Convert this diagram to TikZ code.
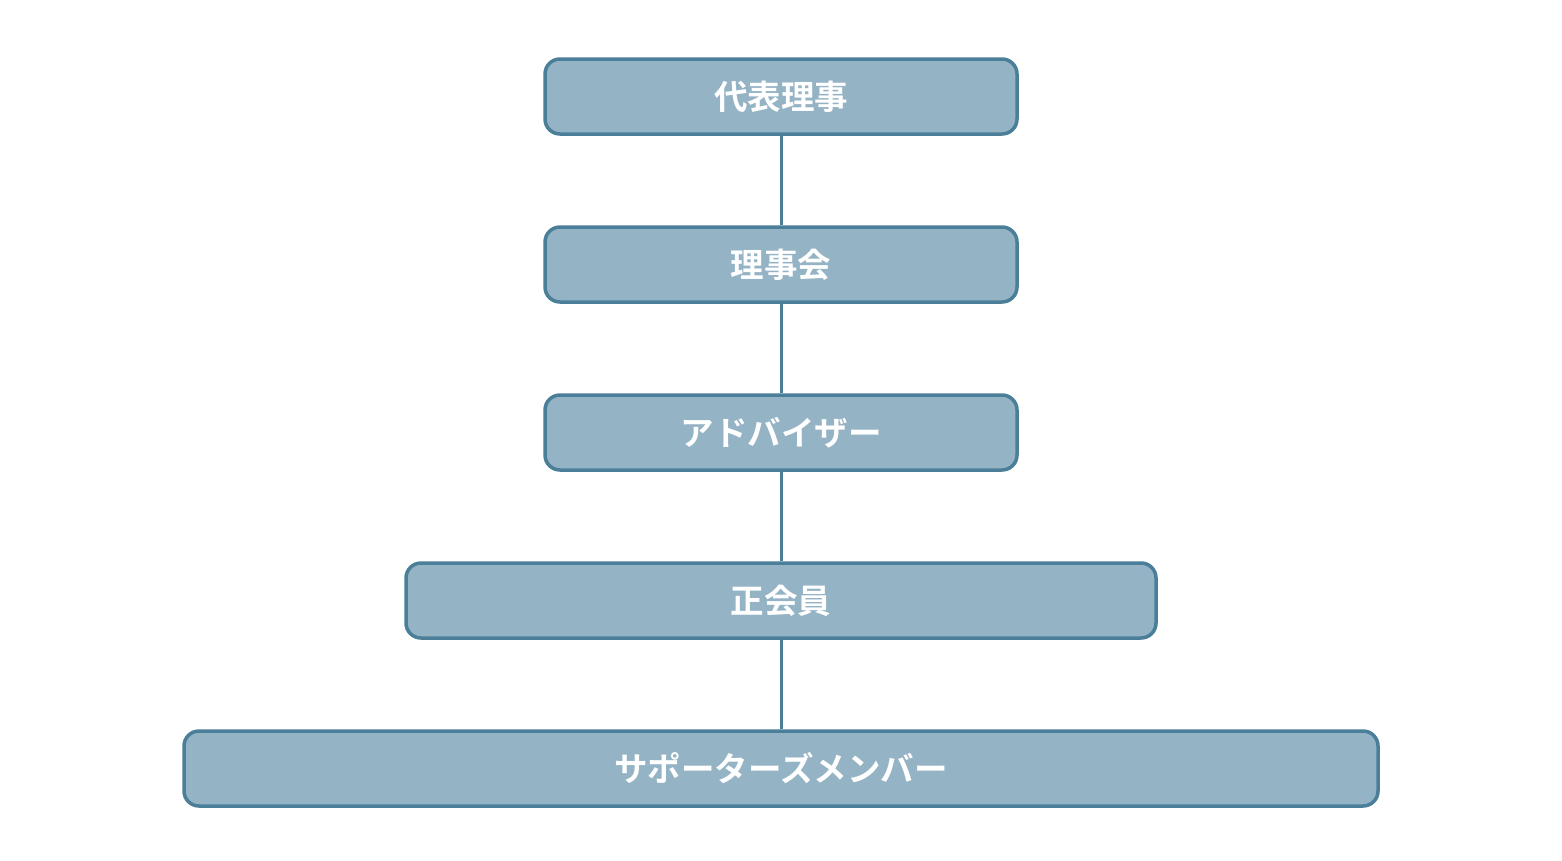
\documentclass[tikz,border=0pt]{standalone}
\usepackage{fontspec}
\newfontfamily\jpfont[BoldFont={Noto Sans CJK JP Bold}]{Noto Sans CJK JP}
\definecolor{boxfill}{HTML}{94B3C5}
\definecolor{boxline}{HTML}{4B7F99}
\begin{document}
\begin{tikzpicture}[x=1pt,y=-1pt,
  orgbox/.style={draw=boxline,fill=boxfill,line width=3.5pt,rounded corners=15pt,
    minimum height=75pt,inner sep=0pt,font=\jpfont\bfseries\fontsize{33.5}{36}\selectfont,text=white},
  link/.style={draw=boxline,line width=3pt}]
\useasboundingbox (0,0) rectangle (1562,860);
\fill[white] (0,0) rectangle (1562,860);
\node[orgbox,minimum width=472pt] (a) at (781,96.5) {代表理事};
\node[orgbox,minimum width=472pt] (b) at (781,264.5) {理事会};
\node[orgbox,minimum width=472pt] (c) at (781,432.5) {アドバイザー};
\node[orgbox,minimum width=750pt] (d) at (781,600.5) {正会員};
\node[orgbox,minimum width=1194pt] (e) at (781,768.5) {サポーターズメンバー};
\draw[link] (a) -- (b);
\draw[link] (b) -- (c);
\draw[link] (c) -- (d);
\draw[link] (d) -- (e);
\end{tikzpicture}
\end{document}
